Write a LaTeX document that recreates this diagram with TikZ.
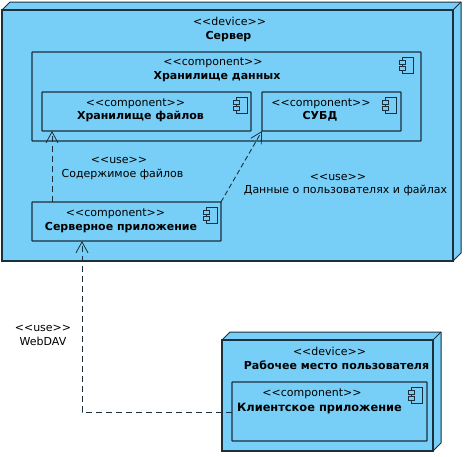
\documentclass[tikz,border=0pt]{standalone}
\usepackage{fontspec}
\setmainfont{DejaVu Sans}
\usetikzlibrary{arrows.meta,calc,fit}
\definecolor{nodeblue}{HTML}{77CFF7}
\definecolor{umlline}{HTML}{1C2F3C}
\tikzset{
  umltext/.style={anchor=base,inner sep=0pt,font=\fontsize{11}{14}\selectfont,text=black},
  umlname/.style={umltext,font=\fontsize{11}{14}\selectfont\bfseries},
  comp/.style={draw=umlline,line width=1.1pt,rounded corners=0.5pt,anchor=north west,inner sep=0pt,outer sep=0pt},
  use/.style={draw=umlline,line width=0.9pt,dash pattern=on 6pt off 4pt,-{Straight Barb[length=11pt,width=12pt,line width=0.8pt]}},
  usethin/.style={use,line width=0.9pt,dash pattern=on 5pt off 3pt}
}
\newcommand{\lt}{<\kern0pt<}
\newcommand{\gt}{>\kern0pt>}
% component icon, (#1) is its top left corner
\newcommand{\compicon}[1]{
  \begin{scope}[shift={(#1)},draw=umlline,line width=0.9pt]
    \draw (3,0) rectangle (14,16);
    \draw[fill=nodeblue] (0,3.5) rectangle (6,7);
    \draw[fill=nodeblue] (0,9.5) rectangle (6,13);
  \end{scope}
}
% device box: front (#1) to (#2), depth 8
\newcommand{\devicebox}[3]{
  \path (#1) coordinate (fa) (#2) coordinate (fb);
  \draw[umlline,line width=1pt,fill=nodeblue,line join=round] (fa) -- ++(8,-8) -| ($(fb)+(8,-8)$) -- (fb) -| cycle;
  \draw[umlline,line width=1.3pt,fill=nodeblue] (fa) rectangle (fb);
  \draw[umlline,line width=1pt] (fa -| fb) -- ++(8,-8);
  \node[inner sep=0pt,outer sep=0pt,fit=(fa)(fb)] (#3) {};
}
\begin{document}
\begin{tikzpicture}[x=1pt,y=-1pt]
\useasboundingbox (0,0) rectangle (466,456);
\devicebox{2,10}{453,261}{server}
\devicebox{222,340}{433,451}{workplace}

\node[comp,minimum width=389pt,minimum height=89pt] (store) at (32,52) {};
\node[comp,minimum width=209pt,minimum height=39pt] (files) at (42,92) {};
\node[comp,minimum width=139pt,minimum height=39pt] (dbms) at (262,92) {};
\node[comp,minimum width=189pt,minimum height=39pt] (app) at (32,202) {};
\node[comp,minimum width=195pt,minimum height=59pt] (client) at (232,382) {};

\compicon{399,57}
\compicon{233,97}
\compicon{382,97}
\compicon{203,207}
\compicon{408,387}

\node[umltext] (serverst) at (229.5,25) {\lt device\gt};
\node[umlname] (servername) at (228.5,39) {Сервер};
\node[umltext] (storest) at (213,65) {\lt component\gt};
\node[umlname] (storename) at (217,79) {Хранилище данных};
\node[umltext] (filesst) at (135.5,106) {\lt component\gt};
\node[umlname] (filesname) at (140.5,119) {Хранилище файлов};
\node[umltext] (dbmsst) at (321,106) {\lt component\gt};
\node[umlname] (dbmsname) at (320,119) {СУБД};
\node[umltext] (appst) at (115.5,216) {\lt component\gt};
\node[umlname] (appname) at (121,230) {Серверное приложение};
\node[umltext] (workst) at (329.5,355) {\lt device\gt};
\node[umlname] (workname) at (336.5,369) {Рабочее место пользователя};
\node[umltext] (clientst) at (312,396) {\lt component\gt};
\node[umlname,font=\fontsize{11.4}{14}\selectfont\bfseries] (clientname) at (319.5,411) {Клиентское приложение};
\node[umltext] (filesusest) at (119,163) {\lt use\gt};
\node[umltext] (filesuse) at (122.5,177) {Содержимое файлов};
\node[umltext] (dbmsusest) at (338,180) {\lt use\gt};
\node[umltext] (dbmsuse) at (345.5,193) {Данные о пользователях и файлах};
\node[umltext] (clientusest) at (43,331) {\lt use\gt};
\node[umltext] (clientuse) at (43,345) {WebDAV};

\coordinate (appa) at (52,202);
\coordinate (filesa) at (52,131);
\coordinate (clienta) at (232,412);
\coordinate (appb) at (82,241);
\draw[use] (appa) -- (filesa);
\draw[usethin] (app.north east) -- (dbms.south west);
\draw[use] (clienta) -| (appb);
\end{tikzpicture}
\end{document}
